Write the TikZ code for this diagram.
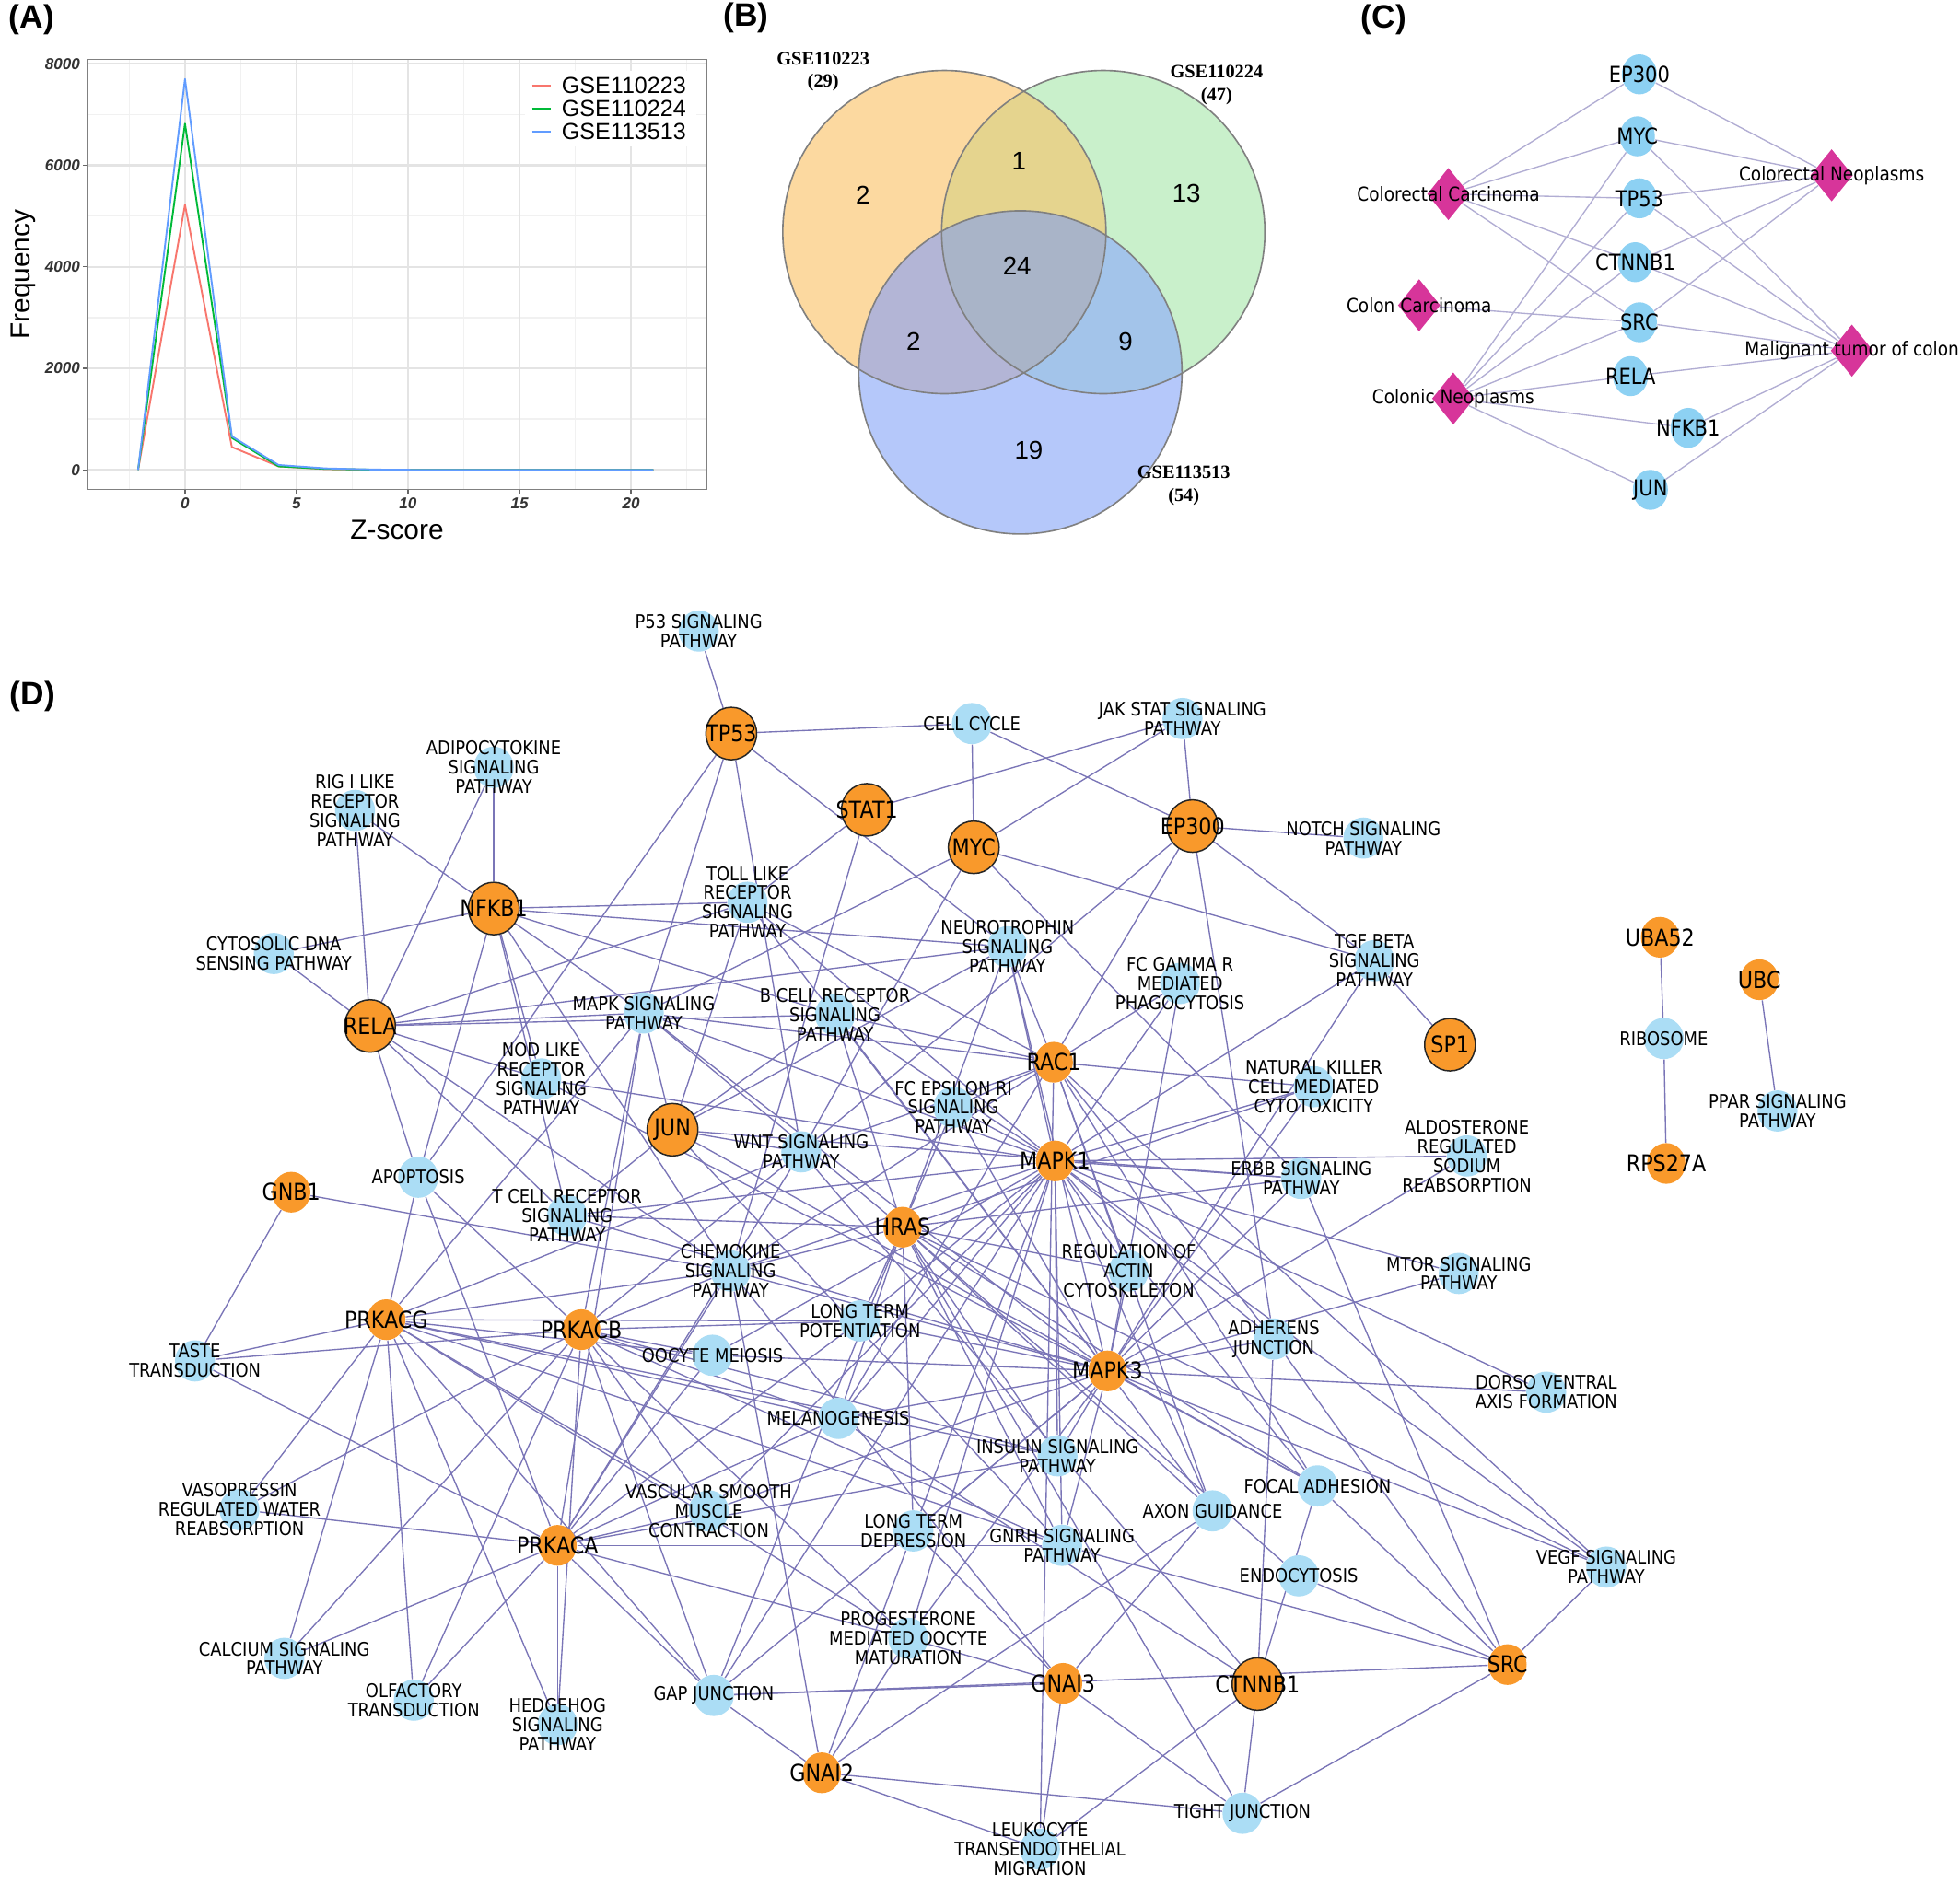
\documentclass[tikz,border=0pt]{standalone}
\usepackage{fontspec}
\setmainfont{Liberation Sans}
\newfontfamily\dvs[FakeStretch=0.88]{DejaVu Sans}
\newfontfamily\lserif{Liberation Serif}
\usetikzlibrary{shapes.geometric,backgrounds}
\definecolor{aRed}{HTML}{F8766D}
\definecolor{aGreen}{HTML}{00BA38}
\definecolor{aBlue}{HTML}{619CFF}
\definecolor{gridMaj}{HTML}{E4E4E4}
\definecolor{gridMin}{HTML}{F1F1F1}
\definecolor{vO}{HTML}{FCD9A0}
\definecolor{vG}{HTML}{C9F0CB}
\definecolor{vB}{HTML}{B5C8FA}
\definecolor{vOG}{HTML}{E5D48E}
\definecolor{vOB}{HTML}{B3B5D6}
\definecolor{vGB}{HTML}{A3C4EA}
\definecolor{vOGB}{HTML}{A9B4C8}
\definecolor{cBlue}{HTML}{8DD1F3}
\definecolor{cPink}{HTML}{D7359A}
\definecolor{cEdge}{HTML}{B1ADD3}
\definecolor{dOrange}{HTML}{F9992B}
\definecolor{dBlue}{HTML}{ABDDF5}
\definecolor{dEdge}{HTML}{7A75B7}
\newcommand\genenode[3]{\node[gnn,label={[glab]center:#3}] (#1) at (#2) {};}
\newcommand\genebnode[3]{\node[gbn,label={[glab]center:#3}] (#1) at (#2) {};}
\newcommand\pwnode[3]{\node[pwn,label={[plab]center:{#3}}] (#1) at (#2) {};}
\newcommand\cgenenode[3]{\node[cgene,label={[cglab]center:#3}] (#1) at (#2) {};}
\newcommand\vR{129.3}
\begin{document}
\begin{tikzpicture}[x=0.5pt,y=-0.5pt,
  gnn/.style={ellipse, fill=dOrange, minimum width=15.3pt, minimum height=16.3pt, inner sep=0pt},
  gbn/.style={ellipse, fill=dOrange, draw=black!85, line width=0.55pt, minimum width=20.3pt, minimum height=21pt, inner sep=0pt},
  pwn/.style={ellipse, fill=dBlue, minimum width=16pt, minimum height=16.5pt, inner sep=0pt},
  glab/.style={font=\dvs\fontsize{9.3pt}{10pt}\selectfont, inner sep=0pt},
  plab/.style={align=center, font=\dvs\fontsize{7.5pt}{7.7pt}\selectfont, inner sep=0pt},
  dline/.style={draw=dEdge, line width=0.5pt},
  cgene/.style={ellipse, fill=cBlue, minimum width=14pt, minimum height=16pt, inner sep=0pt},
  cdia/.style={diamond, fill=cPink, minimum width=17pt, minimum height=21pt, inner sep=0pt},
  cglab/.style={font=\dvs\fontsize{8.8pt}{9pt}\selectfont, inner sep=0pt},
  cdlab/.style={font=\dvs\fontsize{7.75pt}{8pt}\selectfont, inner sep=0pt},
  cline/.style={draw=cEdge, line width=0.5pt},
  panlab/.style={font=\bfseries\fontsize{13pt}{14pt}\selectfont, inner sep=0pt},
  tlab/.style={font=\bfseries\itshape\fontsize{6.3pt}{7pt}\selectfont, text=black!80, inner sep=0pt},
  vnum/.style={font=\fontsize{10.2pt}{11pt}\selectfont, inner sep=0pt},
  gsel/.style={align=center, font=\lserif\bfseries\fontsize{7.5pt}{9.2pt}\selectfont, inner sep=0pt}
]
\useasboundingbox (0,0) rectangle (1568,1507);
\begin{pgfonlayer}{background}
\fill[white] (0,0) rectangle (1568,1507);
\end{pgfonlayer}

% ---------------- Panel labels
\node[panlab] (labA) at (25.4,15.6) {(A)};
\node[panlab] (labB) at (597,14) {(B)};
\node[panlab] (labC) at (1107,15.6) {(C)};
\node[panlab] (labD) at (26,557) {(D)};

% ---------------- Panel A
\foreach \yy in {335.4,254.1,172.9,91.6} \draw[gridMin, line width=0.5pt] (70,\yy) -- (565.6,\yy);
\foreach \xx in {103.4,192.6,281.8,371,460.2,549.4} \draw[gridMin, line width=0.5pt] (\xx,47.6) -- (\xx,391.7);
\foreach \yy in {376,294.75,213.5,132.25,51} \draw[gridMaj, line width=0.8pt] (70,\yy) -- (565.6,\yy);
\foreach \xx in {148,237.2,326.4,415.6,504.8} \draw[gridMaj, line width=0.8pt] (\xx,47.6) -- (\xx,391.7);
\fill[white] (420,57) rectangle (557,117);
\draw[aRed, line width=0.7pt, line join=round] (110.5,376) -- (148,163.9) -- (185.5,357.7) -- (222.9,373.2) -- (260.4,375.4) -- (297.9,375.9) -- (335.3,376) -- (522.6,376);
\draw[aGreen, line width=0.7pt, line join=round] (110.5,376) -- (148,98.9) -- (185.5,350.4) -- (222.9,373.2) -- (260.4,375.2) -- (297.9,375.8) -- (335.3,376) -- (522.6,376);
\draw[aBlue, line width=0.7pt, line join=round] (110.5,376) -- (148,63.2) -- (185.5,349.2) -- (222.9,372.1) -- (260.4,374.8) -- (297.9,375.7) -- (335.3,376) -- (522.6,376);
\draw[black!50, line width=0.6pt] (70,47.6) rectangle (565.6,391.7);
\foreach \yy/\yl in {376/0,294.75/2000,213.5/4000,132.25/6000,51/8000} {
  \draw[black!60, line width=0.5pt] (66.5,\yy) -- (70,\yy);
  \node[tlab, anchor=east] (yt\yl) at (64.5,\yy) {\yl};
}
\foreach \xx/\xl in {148/0,237.2/5,326.4/10,415.6/15,504.8/20} {
  \draw[black!60, line width=0.5pt] (\xx,391.7) -- (\xx,395.2);
  \node[tlab] (xt\xl) at (\xx,403) {\xl};
}
\node[rotate=90, font=\fontsize{11pt}{12pt}\selectfont] (ylab) at (18.4,219.7) {Frequency};
\node[font=\fontsize{11pt}{12pt}\selectfont] (xlab) at (317.6,423.7) {Z-score};
\draw[aRed, line width=0.7pt] (425.6,68.6) -- (440.3,68.6);
\draw[aGreen, line width=0.7pt] (425.6,87) -- (440.3,87);
\draw[aBlue, line width=0.7pt] (425.6,105.4) -- (440.3,105.4);
\node[anchor=west, font=\fontsize{9.25pt}{10pt}\selectfont, inner sep=0pt] (leg1) at (449,68.6) {GSE110223};
\node[anchor=west, font=\fontsize{9.25pt}{10pt}\selectfont, inner sep=0pt] (leg2) at (449,87) {GSE110224};
\node[anchor=west, font=\fontsize{9.25pt}{10pt}\selectfont, inner sep=0pt] (leg3) at (449,105.4) {GSE113513};

% ---------------- Panel B
\fill[vO] (755.5,185.7) circle[radius=\vR];
\fill[vG] (882.6,185.7) circle[radius=\vR];
\fill[vB] (816.3,298) circle[radius=\vR];
\begin{scope}
  \clip (755.5,185.7) circle[radius=\vR];
  \fill[vOG] (882.6,185.7) circle[radius=\vR];
  \fill[vOB] (816.3,298) circle[radius=\vR];
\end{scope}
\begin{scope}
  \clip (882.6,185.7) circle[radius=\vR];
  \fill[vGB] (816.3,298) circle[radius=\vR];
\end{scope}
\begin{scope}
  \clip (755.5,185.7) circle[radius=\vR];
  \clip (882.6,185.7) circle[radius=\vR];
  \fill[vOGB] (816.3,298) circle[radius=\vR];
\end{scope}
\draw[black!50, line width=0.6pt] (755.5,185.7) circle[radius=\vR];
\draw[black!50, line width=0.6pt] (882.6,185.7) circle[radius=\vR];
\draw[black!50, line width=0.6pt] (816.3,298) circle[radius=\vR];
\node[vnum] (vn1) at (815.2,129) {1};
\node[vnum] (vn2) at (690.2,155.9) {2};
\node[vnum] (vn13) at (949.2,154.5) {13};
\node[vnum] (vn24) at (813.6,212.6) {24};
\node[vnum] (vn2b) at (730.8,273.5) {2};
\node[vnum] (vn9) at (900.4,273.5) {9};
\node[vnum] (vn19) at (823,360) {19};
\node[gsel] (gseA) at (658.5,57.4) {GSE110223\\(29)};
\node[gsel] (gseB) at (973.3,68) {GSE110224\\(47)};
\node[gsel] (gseC) at (947,388.3) {GSE113513\\(54)};

% ---------------- Panel C
\cgenenode{cep300}{1311.5,59.5}{EP300}
\cgenenode{cmyc}{1309.9,109.1}{MYC}
\cgenenode{ctp53}{1311.5,158.7}{TP53}
\cgenenode{cctnnb1}{1308.3,209.8}{CTNNB1}
\cgenenode{csrc}{1311.5,257.9}{SRC}
\cgenenode{crela}{1304.4,301}{RELA}
\cgenenode{cnfkb1}{1350.5,342.4}{NFKB1}
\cgenenode{cjun}{1320.3,392}{JUN}
\node[cdia, label={[cdlab]center:Colorectal Carcinoma}] (dcc) at (1158.7,155.3) {};
\node[cdia, label={[cdlab]center:Colon Carcinoma}] (dcolc) at (1135.3,244.3) {};
\node[cdia, label={[cdlab]center:Colonic Neoplasms}] (dcn) at (1162.6,318.9) {};
\node[cdia, label={[cdlab]center:Colorectal Neoplasms}] (dcrn) at (1465.3,140.3) {};
\node[cdia, label={[cdlab]center:Malignant tumor of colon}] (dmt) at (1481.5,280.6) {};
\begin{pgfonlayer}{background}
\foreach \p in {cep300,cmyc,ctp53,cctnnb1,csrc} \draw[cline] (dcc) -- (\p);
\draw[cline] (dcolc) -- (csrc);
\foreach \p in {cmyc,ctp53,cctnnb1,csrc,crela,cnfkb1,cjun} \draw[cline] (dcn) -- (\p);
\foreach \p in {cep300,cmyc,ctp53,cctnnb1,csrc} \draw[cline] (dcrn) -- (\p);
\foreach \p in {cmyc,ctp53,cctnnb1,csrc,crela,cnfkb1,cjun} \draw[cline] (dmt) -- (\p);
\end{pgfonlayer}

% ---------------- Panel D : pathway nodes
\pwnode{p53}{559,505}{P53 SIGNALING\\PATHWAY}
\pwnode{cellcyc}{777.5,579}{CELL CYCLE}
\pwnode{jakstat}{946,575}{JAK STAT SIGNALING\\PATHWAY}
\pwnode{notch}{1090.7,670.6}{NOTCH SIGNALING\\PATHWAY}
\pwnode{adipo}{395,614}{ADIPOCYTOKINE\\SIGNALING\\PATHWAY}
\pwnode{rig}{284,648.5}{RIG I LIKE\\RECEPTOR\\SIGNALING\\PATHWAY}
\pwnode{cyto}{219,763}{CYTOSOLIC DNA\\SENSING PATHWAY}
\pwnode{toll}{598,722}{TOLL LIKE\\RECEPTOR\\SIGNALING\\PATHWAY}
\pwnode{neuro}{806,757.6}{NEUROTROPHIN\\SIGNALING\\PATHWAY}
\pwnode{tgf}{1099.5,768.7}{TGF BETA\\SIGNALING\\PATHWAY}
\pwnode{fcg}{944,787}{FC GAMMA R\\MEDIATED\\PHAGOCYTOSIS}
\pwnode{mapks}{515,810.6}{MAPK SIGNALING\\PATHWAY}
\pwnode{bcell}{668,812}{B CELL RECEPTOR\\SIGNALING\\PATHWAY}
\pwnode{nod}{433,863.4}{NOD LIKE\\RECEPTOR\\SIGNALING\\PATHWAY}
\pwnode{fce}{762.7,886}{FC EPSILON RI\\SIGNALING\\PATHWAY}
\pwnode{nk}{1051,869.6}{NATURAL KILLER\\CELL MEDIATED\\CYTOTOXICITY}
\pwnode{wnt}{641,921.7}{WNT SIGNALING\\PATHWAY}
\pwnode{aldo}{1173.5,925}{ALDOSTERONE\\REGULATED\\SODIUM\\REABSORPTION}
\pwnode{apopt}{334.6,942}{APOPTOSIS}
\pwnode{tcell}{453.7,972.7}{T CELL RECEPTOR\\SIGNALING\\PATHWAY}
\pwnode{erbb}{1041,943}{ERBB SIGNALING\\PATHWAY}
\pwnode{chemo}{584.4,1017}{CHEMOKINE\\SIGNALING\\PATHWAY}
\pwnode{regact}{903,1017}{REGULATION OF\\ACTIN\\CYTOSKELETON}
\pwnode{mtor}{1167,1019}{MTOR SIGNALING\\PATHWAY}
\pwnode{ltp}{688,1057}{LONG TERM\\POTENTIATION}
\pwnode{adher}{1019,1071.5}{ADHERENS\\JUNCTION}
\pwnode{oocyte}{570,1084.5}{OOCYTE MEIOSIS}
\pwnode{dorso}{1237,1114}{DORSO VENTRAL\\AXIS FORMATION}
\pwnode{taste}{156,1089}{TASTE\\TRANSDUCTION}
\pwnode{melano}{670.6,1135}{MELANOGENESIS}
\pwnode{insulin}{846,1165}{INSULIN SIGNALING\\PATHWAY}
\pwnode{vaso}{191.6,1208}{VASOPRESSIN\\REGULATED WATER\\REABSORPTION}
\pwnode{vasc}{567,1209}{VASCULAR SMOOTH\\MUSCLE\\CONTRACTION}
\pwnode{focal}{1054,1189}{FOCAL ADHESION}
\pwnode{axon}{970,1209}{AXON GUIDANCE}
\pwnode{ltd}{730.7,1225}{LONG TERM\\DEPRESSION}
\pwnode{gnrh}{849.7,1236.6}{GNRH SIGNALING\\PATHWAY}
\pwnode{endo}{1039,1261}{ENDOCYTOSIS}
\pwnode{vegf}{1285,1254}{VEGF SIGNALING\\PATHWAY}
\pwnode{calc}{227.5,1327}{CALCIUM SIGNALING\\PATHWAY}
\pwnode{olf}{331,1360.5}{OLFACTORY\\TRANSDUCTION}
\pwnode{hedge}{446,1380}{HEDGEHOG\\SIGNALING\\PATHWAY}
\pwnode{gap}{571,1356.7}{GAP JUNCTION}
\pwnode{prog}{726.6,1311}{PROGESTERONE\\MEDIATED OOCYTE\\MATURATION}
\pwnode{tight}{994,1451}{TIGHT JUNCTION}
\pwnode{leuko}{832,1479.6}{LEUKOCYTE\\TRANSENDOTHELIAL\\MIGRATION}
\pwnode{ribo}{1331,831}{RIBOSOME}
\pwnode{ppar}{1422,889}{PPAR SIGNALING\\PATHWAY}

% ---------------- Panel D : gene nodes
\genebnode{tp53}{585,587}{TP53}
\genebnode{stat1}{693.5,648}{STAT1}
\genebnode{myc}{779,678}{MYC}
\genebnode{ep300}{954,661}{EP300}
\genebnode{nfkb1}{395,727}{NFKB1}
\genebnode{rela}{296,821}{RELA}
\genebnode{jun}{538,904}{JUN}
\genebnode{sp1}{1160,836}{SP1}
\genebnode{ctnnb1}{1006,1347.6}{CTNNB1}
\genenode{rac1}{843,850}{RAC1}
\genenode{mapk1}{844,929}{MAPK1}
\genenode{hras}{722,982}{HRAS}
\genenode{mapk3}{886,1097}{MAPK3}
\genenode{gnb1}{233,954}{GNB1}
\genenode{prkacg}{309,1056}{PRKACG}
\genenode{prkacb}{465,1064}{PRKACB}
\genenode{prkaca}{446,1236.6}{PRKACA}
\genenode{gnai3}{850.5,1347}{GNAI3}
\genenode{gnai2}{657.4,1418.6}{GNAI2}
\genenode{src}{1206,1332}{SRC}
\genenode{uba52}{1328,750}{UBA52}
\genenode{ubc}{1407.5,784}{UBC}
\genenode{rps27a}{1333,931}{RPS27A}

% ---------------- Panel D : edges
\begin{pgfonlayer}{background}
\foreach \p in {p53,cellcyc,apopt,mapks,neuro,wnt} \draw[dline] (tp53) -- (\p);
\foreach \p in {jakstat,toll,chemo} \draw[dline] (stat1) -- (\p);
\foreach \p in {cellcyc,jakstat,tgf,erbb,mapks,wnt} \draw[dline] (myc) -- (\p);
\foreach \p in {cellcyc,jakstat,notch,tgf,adher,wnt,melano} \draw[dline] (ep300) -- (\p);
\foreach \g in {nfkb1,rela} \foreach \p in {adipo,rig,cyto,toll,neuro,bcell,mapks,apopt,nod,tcell,chemo} \draw[dline] (\g) -- (\p);
\foreach \p in {toll,neuro,mapks,bcell,tcell,wnt,erbb,gnrh,focal} \draw[dline] (jun) -- (\p);
\foreach \p in {toll,neuro,fcg,mapks,bcell,fce,nk,wnt,chemo,regact,adher,focal,axon,vegf,leuko} \draw[dline] (rac1) -- (\p);
\foreach \g in {mapk1,mapk3} \foreach \p in {toll,neuro,tgf,fcg,mapks,bcell,nod,fce,nk,aldo,tcell,erbb,chemo,regact,mtor,ltp,adher,oocyte,dorso,melano,insulin,vasc,focal,axon,ltd,gnrh,vegf,gap,prog} \draw[dline] (\g) -- (\p);
\foreach \p in {neuro,mapks,bcell,fce,nk,tcell,erbb,chemo,regact,ltp,melano,insulin,focal,axon,ltd,gnrh,vegf,gap,endo,tight} \draw[dline] (hras) -- (\p);
\foreach \g in {prkacg,prkacb,prkaca} \foreach \p in {apopt,mapks,wnt,chemo,ltp,oocyte,taste,melano,insulin,vaso,vasc,gnrh,calc,olf,hedge,gap,prog} \draw[dline] (\g) -- (\p);
\foreach \p in {taste,chemo} \draw[dline] (gnb1) -- (\p);
\foreach \g in {gnai2,gnai3} \foreach \p in {chemo,ltd,axon,gap,prog,tight,leuko} \draw[dline] (\g) -- (\p);
\foreach \p in {wnt,adher,melano,focal,tight,leuko} \draw[dline] (ctnnb1) -- (\p);
\foreach \p in {adher,focal,vegf,endo,tight,gap,gnrh,erbb} \draw[dline] (src) -- (\p);
\draw[dline] (sp1) -- (tgf);
\draw[dline] (uba52) -- (ribo);
\draw[dline] (rps27a) -- (ribo);
\draw[dline] (ubc) -- (ppar);
\end{pgfonlayer}
\end{tikzpicture}
\end{document}
